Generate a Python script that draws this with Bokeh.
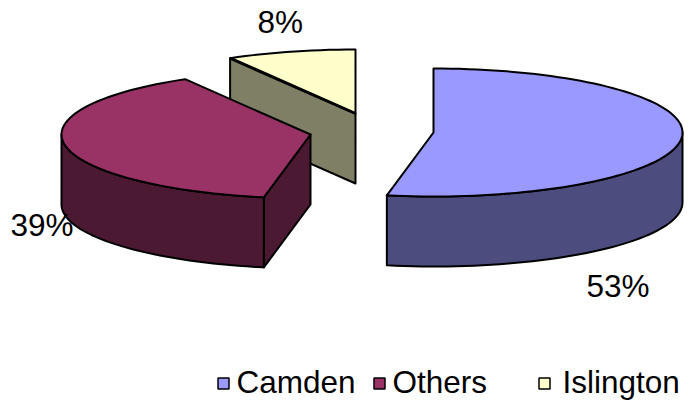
import math
from bokeh.plotting import figure
from bokeh.models import Range1d
from bokeh.core.properties import value
from bokeh.embed import file_html
from bokeh.resources import INLINE

categories = ["Camden", "Others", "Islington"]
shares = [53.0, 38.6, 8.4]
top_colors = ["#9999FF", "#993366", "#FFFFCC"]
side_colors = ["#4C4C7F", "#4C1933", "#7F7F66"]

# layout, in page pixels
centres = {"Camden": (433, 132), "Others": (310, 134), "Islington": (355, 113)}
RX, RY, DEPTH = 249, 64, 70
label_pos = {"Camden": (586, 285), "Others": (10, 224), "Islington": (257, 21)}
legend_square_x = [223, 379, 544]
legend_text_x = [236, 392, 562]
LEGEND_BASE, LEGEND_SQ_Y = 381, 383
FONT = "31.5px"

W, H = 697, 405
p = figure(width=W, height=H, output_backend="svg", toolbar_location=None,
           x_range=Range1d(0, W), y_range=Range1d(H, 0),
           min_border=0, outline_line_color=None)
p.axis.visible = False
p.grid.visible = False


def pt(c, deg, dy=0):
    a = math.radians(deg)
    return c[0] + RX * math.sin(a), c[1] - RY * math.cos(a) + dy


def arc(c, a0, a1, dy=0):
    n = max(2, int(abs(a1 - a0) / 2) + 1)
    return [pt(c, a0 + (a1 - a0) * i / (n - 1), dy) for i in range(n)]


def poly(points, color, lw=2):
    p.patch([q[0] for q in points], [q[1] for q in points], fill_color=color,
            line_color="black", line_width=lw, line_join="round")


# slice angles, clockwise from 12 o'clock
angles = {}
start = 0.0
for name, s in zip(categories, shares):
    angles[name] = (start, start + s * 3.6)
    start += s * 3.6

col_top = dict(zip(categories, top_colors))
col_side = dict(zip(categories, side_colors))

# Islington: cut face behind, then top
c = centres["Islington"]
a0, a1 = angles["Islington"]
q = pt(c, a0)
poly([q, c, (c[0], c[1] + DEPTH), (q[0], q[1] + DEPTH)], col_side["Islington"])
poly([c] + arc(c, a0, a1), col_top["Islington"])
p.line([q[0], c[0]], [q[1], c[1]], line_color="black", line_width=3)

# Camden: rim wall then top
c = centres["Camden"]
a0, a1 = angles["Camden"]
poly(arc(c, 90, a1) + arc(c, a1, 90, DEPTH), col_side["Camden"])
poly([c] + arc(c, a0, a1), col_top["Camden"])

# Others: cut face, rim wall, top
c = centres["Others"]
a0, a1 = angles["Others"]
q = pt(c, a0)
poly([q, c, (c[0], c[1] + DEPTH), (q[0], q[1] + DEPTH)], col_side["Others"])
poly(arc(c, a0, 270) + arc(c, 270, a0, DEPTH), col_side["Others"])
poly([c] + arc(c, a0, a1), col_top["Others"])

# data labels
for name, s in zip(categories, shares):
    x, y = label_pos[name]
    p.text([x], [y], text=[f"{round(s)}%"], text_font=value("Liberation Sans"),
           text_font_size=FONT, text_color="black", text_baseline="alphabetic")

# legend
p.scatter(legend_square_x, [LEGEND_SQ_Y] * 3, marker="square", size=11,
          fill_color=top_colors, line_color="black", line_width=1.5)
p.text(legend_text_x, [LEGEND_BASE] * 3, text=categories,
       text_font=value("Liberation Sans"), text_font_size=FONT,
       text_color="black", text_baseline="alphabetic")

open("out.html", "w").write(file_html(p, INLINE))
